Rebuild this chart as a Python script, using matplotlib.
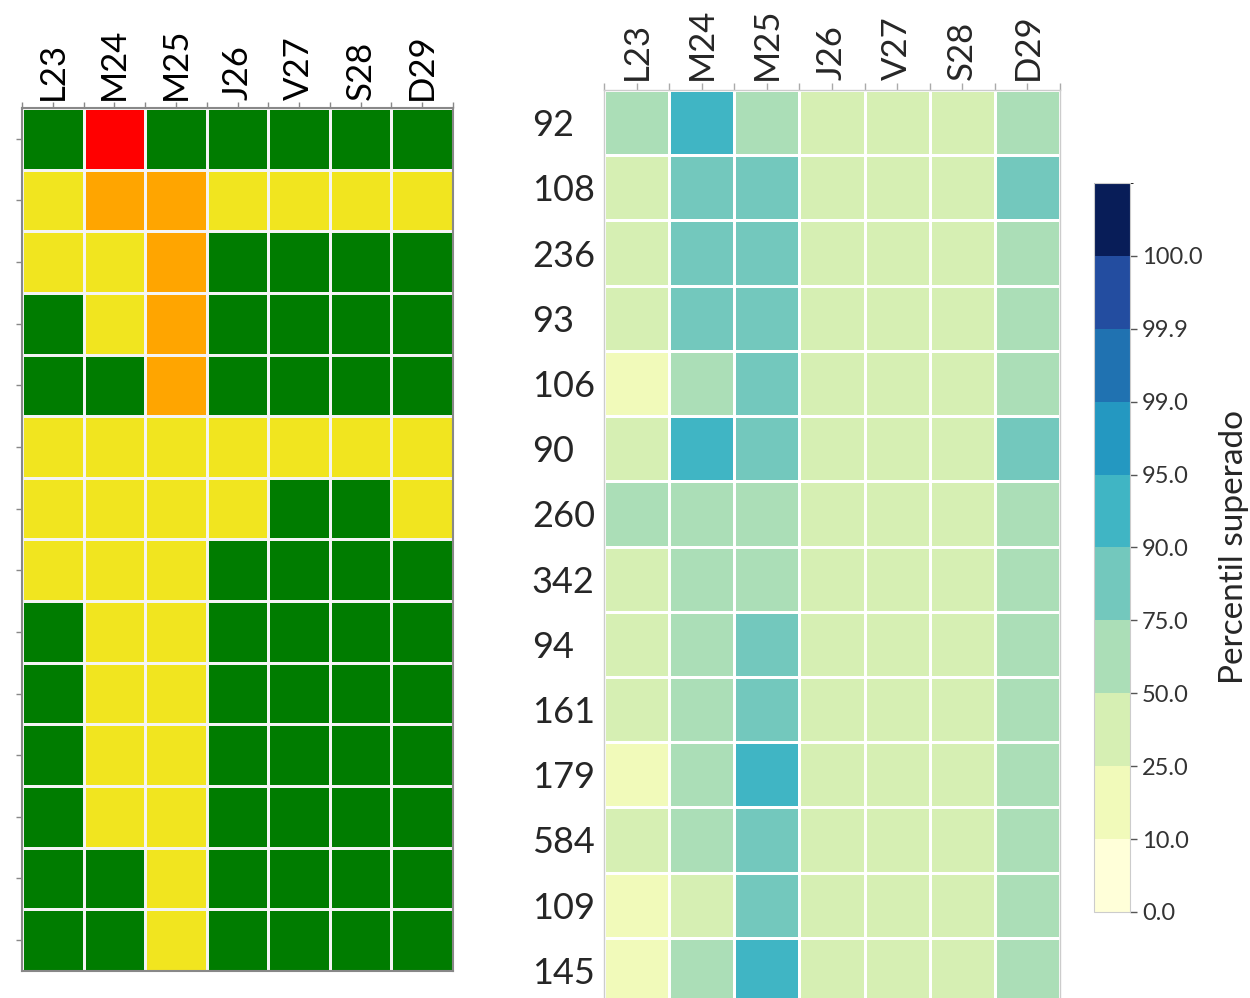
import matplotlib
matplotlib.use("Agg")
import matplotlib.pyplot as plt
import numpy as np
from matplotlib.colors import ListedColormap, BoundaryNorm

plt.rcParams['font.family'] = ['Lato', 'DejaVu Sans']

# ---- data ----
days = ['L23', 'M24', 'M25', 'J26', 'V27', 'S28', 'D29']
stations = ['92', '108', '236', '93', '106', '90', '260', '342', '94', '161',
            '179', '584', '109', '145']

# left panel: alert level per station/day (0=green, 1=yellow, 2=orange, 3=red)
alert = [
    [0, 3, 0, 0, 0, 0, 0],
    [1, 2, 2, 1, 1, 1, 1],
    [1, 1, 2, 0, 0, 0, 0],
    [0, 1, 2, 0, 0, 0, 0],
    [0, 0, 2, 0, 0, 0, 0],
    [1, 1, 1, 1, 1, 1, 1],
    [1, 1, 1, 1, 0, 0, 1],
    [1, 1, 1, 0, 0, 0, 0],
    [0, 1, 1, 0, 0, 0, 0],
    [0, 1, 1, 0, 0, 0, 0],
    [0, 1, 1, 0, 0, 0, 0],
    [0, 1, 1, 0, 0, 0, 0],
    [0, 0, 1, 0, 0, 0, 0],
    [0, 0, 1, 0, 0, 0, 0],
]
alert_colors = ['#007c00', '#f1e51f', '#ffa500', '#ff0000']

# right panel: percentile class exceeded (index into pct_bounds)
pct_class = [
    [3, 5, 3, 2, 2, 2, 3],
    [2, 4, 4, 2, 2, 2, 4],
    [2, 4, 4, 2, 2, 2, 3],
    [2, 4, 4, 2, 2, 2, 3],
    [1, 3, 4, 2, 2, 2, 3],
    [2, 5, 4, 2, 2, 2, 4],
    [3, 3, 3, 2, 2, 2, 3],
    [2, 3, 3, 2, 2, 2, 3],
    [2, 3, 4, 2, 2, 2, 3],
    [2, 3, 4, 2, 2, 2, 3],
    [1, 3, 5, 2, 2, 2, 3],
    [2, 3, 4, 2, 2, 2, 3],
    [1, 2, 4, 2, 2, 2, 3],
    [1, 3, 5, 2, 2, 2, 3],
]
pct_bounds = [0.0, 10.0, 25.0, 50.0, 75.0, 90.0, 95.0, 99.0, 99.9, 100.0]

fig = plt.figure(figsize=(12.5, 9.98), dpi=100)

# ---- left heatmap ----
ax1 = fig.add_axes([0.0176, 0.0271, 0.3448, 0.8647])
a = np.array(alert)
cm1 = ListedColormap(alert_colors)
ax1.pcolormesh(a, cmap=cm1, vmin=-0.5, vmax=3.5, edgecolors='#f4f4f4', linewidth=1.0)
ax1.set_xlim(0, a.shape[1])
ax1.set_ylim(a.shape[0], 0)
ax1.xaxis.tick_top()
ax1.set_xticks(np.arange(a.shape[1]) + 0.5)
ax1.set_xticklabels(days, rotation=90, fontsize=25, color='black')
ax1.set_xticks(np.arange(a.shape[1] + 1), minor=True)
ax1.set_yticks(np.arange(a.shape[0]) + 0.5)
ax1.set_yticklabels([])
ax1.tick_params(axis='both', which='both', color='#888888', length=4, width=1, pad=2)
for s in ax1.spines.values():
    s.set_color('#888888')
    s.set_linewidth(1.5)

# ---- right heatmap ----
ax2 = fig.add_axes([0.4832, -0.005, 0.3648, 0.9148])
p = np.array(pct_class)
nlev = len(pct_bounds)
ylgnbu = matplotlib.colormaps['YlGnBu']
cm2 = ListedColormap([ylgnbu(i / 10) for i in range(nlev - 1)] + [ylgnbu(1.0)])
norm2 = BoundaryNorm(np.arange(nlev + 1), nlev)
mesh = ax2.pcolormesh(p + 0.5, cmap=cm2, norm=norm2, edgecolors='white', linewidth=2)
ax2.set_xlim(0, p.shape[1])
ax2.set_ylim(p.shape[0], 0)
ax2.xaxis.tick_top()
ax2.set_xticks(np.arange(p.shape[1]) + 0.5)
ax2.set_xticklabels(days, rotation=90, fontsize=25, color='#262626')
ax2.set_xticks(np.arange(p.shape[1] + 1), minor=True)
ax2.set_yticks(np.arange(p.shape[0]) + 0.5)
ax2.set_yticklabels(stations, fontsize=26, color='#262626', ha='left')
ax2.tick_params(axis='x', which='both', color='#aaaaaa', length=5, width=1, pad=2)
ax2.tick_params(axis='y', length=0, pad=52)
for s in ax2.spines.values():
    s.set_color('#cccccc')
    s.set_linewidth(1)

# ---- colorbar ----
cax = fig.add_axes([0.8752, 0.0862, 0.0288, 0.7305])
cb = fig.colorbar(mesh, cax=cax, ticks=np.arange(nlev))
cb.ax.set_yticklabels(['%.1f' % b for b in pct_bounds], fontsize=17, color='#333333')
cb.ax.tick_params(color='#555555', length=5, width=1)
cb.outline.set_edgecolor('#cccccc')
cb.set_label('Percentil superado', fontsize=24, color='#262626', labelpad=12)

fig.savefig('out.png', dpi=100)
